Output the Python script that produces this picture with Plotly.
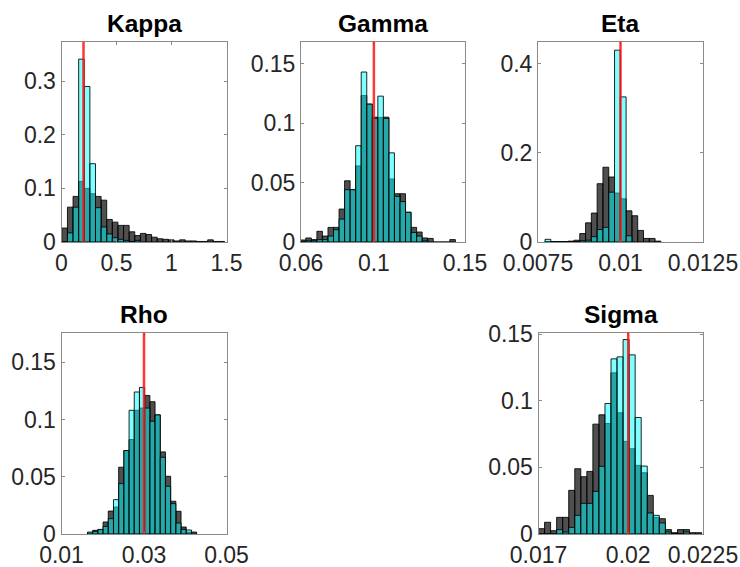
import plotly.graph_objects as go

# ---- histogram data (probability per bin) ----
names = ["Kappa", "Gamma", "Eta", "Rho", "Sigma"]
true_values = [0.2, 0.1, 0.01, 0.03, 0.02]

# bin layout: first edge and bin width for each parameter
bin_start = [0.003, 0.0596, 0.007712, 0.0163, 0.017]
bin_width = [0.051, 0.00304, 0.0001756, 0.00126, 0.000202]

kappa_prior = [0.026, 0.065, 0.085, 0.113, 0.100, 0.090, 0.085, 0.078, 0.042, 0.037,
               0.031, 0.031, 0.019, 0.012, 0.016, 0.014, 0.009, 0.006, 0.005, 0.004,
               0.002, 0.004, 0.002, 0.002, 0.001, 0.001, 0.004, 0.001, 0.001]
kappa_post = [0.0, 0.017, 0.065, 0.341, 0.290, 0.146, 0.064, 0.028, 0.015, 0.008,
              0.005, 0.003, 0.001, 0.003]

gamma_prior = [0.0017, 0.0034, 0.002, 0.009, 0.005, 0.0123, 0.0123, 0.0277, 0.0515, 0.044,
               0.064, 0.1232, 0.116, 0.105, 0.1048, 0.105, 0.053, 0.0406, 0.0406, 0.025,
               0.0123, 0.0084, 0.0034, 0.003, 0.0, 0.0, 0.0, 0.002]
gamma_post = [0.0, 0.001, 0.001, 0.002, 0.002, 0.005, 0.0104, 0.0193, 0.044, 0.044,
              0.081, 0.143, 0.116, 0.104, 0.1227, 0.104, 0.075, 0.0384, 0.034, 0.025,
              0.008, 0.005, 0.001]

eta_prior = [0.001, 0.001, 0.001, 0.001, 0.002, 0.004, 0.019, 0.043, 0.065, 0.131,
             0.168, 0.146, 0.11, 0.097, 0.070, 0.059, 0.026, 0.008, 0.008, 0.002]
eta_post = [0.006, 0.001, 0.001, 0.001, 0.001, 0.001, 0.003, 0.004, 0.012, 0.028,
            0.033, 0.112, 0.431, 0.326, 0.014]

rho_prior = [0.001, 0.0032, 0.0038, 0.0105, 0.020, 0.0236, 0.0583, 0.0729, 0.0825, 0.108,
             0.110, 0.121, 0.1155, 0.104, 0.0717, 0.0504, 0.0286, 0.0198, 0.0061, 0.0017,
             0.0017]
rho_post = [0.0017, 0.0023, 0.004, 0.0067, 0.0134, 0.030, 0.044, 0.0729, 0.108, 0.124,
            0.128, 0.110, 0.0985, 0.104, 0.067, 0.0417, 0.0265, 0.0096, 0.004, 0.0035]

sigma_prior = [0.004, 0.0088, 0.0025, 0.0125, 0.0125, 0.0328, 0.049, 0.043, 0.047, 0.0825,
               0.0895, 0.083, 0.121, 0.091, 0.0695, 0.064, 0.0515, 0.046, 0.029, 0.0125,
               0.0115, 0.0033, 0.001, 0.0033, 0.0033, 0.001, 0.001]
sigma_post = [0.0, 0.0, 0.0, 0.0033, 0.0015, 0.005, 0.014, 0.023, 0.023, 0.032,
              0.0508, 0.098, 0.1315, 0.133, 0.146, 0.1345, 0.0875, 0.051, 0.0158, 0.014,
              0.0083, 0.0015, 0.0, 0.0, 0.0015]

prior_sets = [kappa_prior, gamma_prior, eta_prior, rho_prior, sigma_prior]
post_sets = [kappa_post, gamma_post, eta_post, rho_post, sigma_post]

x_ranges = [[0, 1.5], [0.06, 0.15], [0.0075, 0.0125], [0.01, 0.05], [0.017, 0.0225]]
y_ranges = [[0, 0.3735], [0, 0.1685], [0, 0.45], [0, 0.1755], [0, 0.1513]]
x_ticks = [[0, 0.5, 1, 1.5], [0.06, 0.1, 0.15], [0.0075, 0.01, 0.0125],
           [0.01, 0.03, 0.05], [0.017, 0.02, 0.0225]]
x_ticklabels = [["0", "0.5", "1", "1.5"], ["0.06", "0.1", "0.15"],
                ["0.0075", "0.01", "0.0125"], ["0.01", "0.03", "0.05"],
                ["0.017", "0.02", "0.0225"]]
y_ticks = [[0, 0.1, 0.2, 0.3], [0, 0.05, 0.1, 0.15], [0, 0.2, 0.4],
           [0, 0.05, 0.1, 0.15], [0, 0.05, 0.1, 0.15]]
y_ticklabels = [["0", "0.1", "0.2", "0.3"], ["0", "0.05", "0.1", "0.15"],
                ["0", "0.2", "0.4"], ["0", "0.05", "0.1", "0.15"],
                ["0", "0.05", "0.1", "0.15"]]

# ---- layout geometry (pixels in a 740 x 567 canvas) ----
W, H = 740, 567
boxes = [  # left, right, top, bottom
    (61.5, 226.5, 41.7, 242.0),
    (301.0, 465.0, 41.7, 242.0),
    (538.0, 703.0, 41.7, 242.0),
    (61.5, 226.5, 333.0, 534.0),
    (538.5, 703.0, 332.5, 534.0),
]

FONT = "Liberation Sans, Arial, Helvetica, sans-serif"
TICK_COLOR = "#262626"
BOX_COLOR = "#8a8a8a"

fig = go.Figure()
layout = dict(
    width=W, height=H,
    margin=dict(l=0, r=0, t=0, b=0, autoexpand=False),
    paper_bgcolor="white", plot_bgcolor="white",
    barmode="overlay", showlegend=False,
    font=dict(family=FONT, size=23, color=TICK_COLOR),
)
shapes = []
annotations = []

for i in range(5):
    n = "" if i == 0 else str(i + 1)
    xa, ya = "x" + n, "y" + n
    start, w = bin_start[i], bin_width[i]
    for vals, fill in ((prior_sets[i], "rgba(0,0,0,0.69)"),
                       (post_sets[i], "rgba(0,255,255,0.5)")):
        centers = [start + w * (k + 0.5) for k in range(len(vals))]
        fig.add_trace(go.Bar(
            x=centers, y=vals, width=w, xaxis=xa, yaxis=ya,
            marker=dict(color=fill, line=dict(color="rgba(0,0,0,0.85)", width=1)),
            hoverinfo="skip", cliponaxis=True,
        ))

    left, right, top, bottom = boxes[i]
    common = dict(
        showline=True, linecolor=BOX_COLOR, linewidth=1, mirror="ticks",
        ticks="inside", ticklen=3, tickcolor=BOX_COLOR, tickwidth=1,
        showgrid=False, zeroline=False, automargin=False,
        tickfont=dict(family=FONT, size=23, color=TICK_COLOR),
    )
    layout["xaxis" + n] = dict(
        domain=[left / W, right / W], range=x_ranges[i], anchor=ya,
        tickmode="array", tickvals=x_ticks[i], ticktext=x_ticklabels[i],
        **common,
    )
    layout["yaxis" + n] = dict(
        domain=[1 - bottom / H, 1 - top / H], range=y_ranges[i], anchor=xa,
        tickmode="array", tickvals=y_ticks[i], ticktext=y_ticklabels[i],
        **common,
    )
    # reference value marker
    shapes.append(dict(
        type="line", xref=xa, yref=ya + " domain",
        x0=true_values[i], x1=true_values[i], y0=0, y1=1,
        line=dict(color="rgba(255,20,20,0.85)", width=2.5),
    ))
    # panel title
    annotations.append(dict(
        text="<b>" + names[i] + "</b>", xref="paper", yref="paper",
        x=(left + right) / 2 / W, y=1 - (top - 3) / H,
        xanchor="center", yanchor="bottom", showarrow=False,
        font=dict(family=FONT, size=24.5, color="black"),
    ))

layout["shapes"] = shapes
layout["annotations"] = annotations
fig.update_layout(**layout)
fig.write_html("out.html")
